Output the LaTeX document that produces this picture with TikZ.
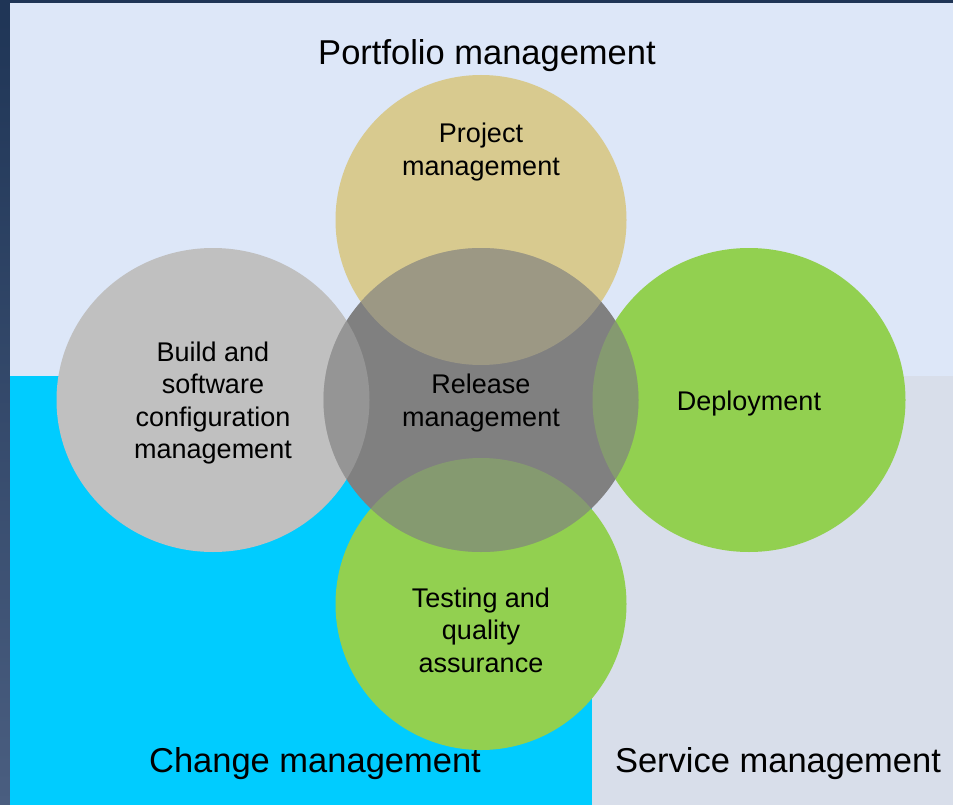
\documentclass[tikz,border=0pt]{standalone}
\usepackage{fontspec}
\setmainfont{Liberation Sans}
\usetikzlibrary{shapes.geometric}
\definecolor{navytop}{HTML}{1F3556}
\definecolor{navybot}{HTML}{4A5E80}
\definecolor{bgtop}{HTML}{DDE7F8}
\definecolor{bgcyan}{HTML}{00CCFF}
\definecolor{bgsvc}{HTML}{D8DEEA}
\definecolor{tan}{HTML}{D8CA8F}
\definecolor{lgray}{HTML}{C0C0C0}
\definecolor{lgreen}{HTML}{92D050}
\definecolor{mgray}{HTML}{808080}
\tikzset{
  circ/.style={ellipse, inner sep=0pt, draw=none},
  circtext/.style={inner sep=0pt, align=center, text=black,
    font=\fontsize{27}{32.5}\selectfont},
  biglabel/.style={inner sep=0pt, text=black, font=\fontsize{34.5}{40}\selectfont},
  tint/.style={opacity=0.33}
}
\begin{document}
\begin{tikzpicture}[x=1pt,y=-1pt]
\useasboundingbox (0,0) rectangle (953,805);
% frame and backgrounds
\shade[top color=navytop, bottom color=navybot] (0,0) rectangle (953,805);
\fill[bgtop] (10,3) rectangle (953,376);
\fill[bgcyan] (10,376) rectangle (592,805);
\fill[bgsvc] (592,376) rectangle (953,805);
% area labels
\node[biglabel] (portfolio) at (487,56) {Portfolio management};
\node[biglabel] (change) at (315,764) {Change management};
\node[biglabel] (service) at (778,764) {Service management};
% outer circles
\node[circ, fill=tan, minimum width=291pt, minimum height=290pt] (proj) at (481,220) {};
\node[circ, fill=lgray, minimum width=313pt, minimum height=304pt] (build) at (213,400) {};
\node[circ, fill=lgreen, minimum width=313pt, minimum height=304pt] (deploy) at (749,400) {};
\node[circ, fill=lgreen, minimum width=291pt, minimum height=292pt] (test) at (481,604) {};
% centre circle
\node[circ, fill=mgray, minimum width=315pt, minimum height=304pt] (release) at (481,400) {};
% overlaps
\begin{scope}
  \clip (481,400) ellipse [x radius=157.5pt, y radius=152pt];
  \fill[tan, tint] (481,220) ellipse [x radius=145.5pt, y radius=145pt];
  \fill[lgray, tint] (213,400) ellipse [x radius=156.5pt, y radius=152pt];
  \fill[lgreen, tint] (749,400) ellipse [x radius=156.5pt, y radius=152pt];
  \fill[lgreen, tint] (481,604) ellipse [x radius=145.5pt, y radius=146pt];
\end{scope}
% circle texts
\node[circtext] (projtxt) at (481,152) {Project\\management};
\node[circtext] (buildtxt) at (213,403) {Build and\\software\\configuration\\management};
\node[circtext] (deploytxt) at (749,404) {Deployment};
\node[circtext] (testtxt) at (481,630) {Testing and\\quality\\assurance};
\node[circtext] (reltxt) at (481,403) {Release\\management};
\end{tikzpicture}
\end{document}
